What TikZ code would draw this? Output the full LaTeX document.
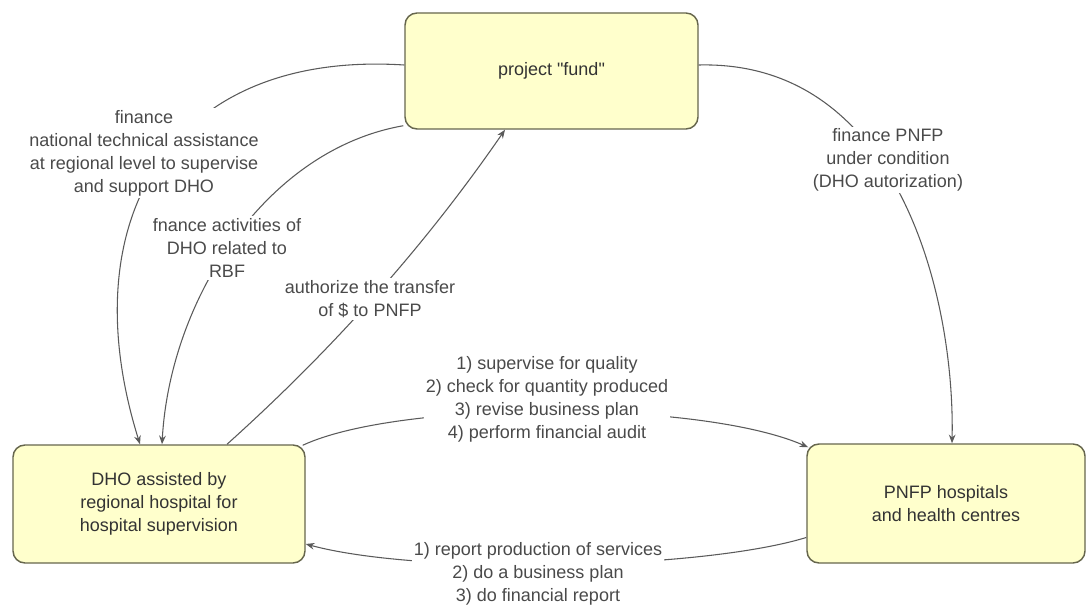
\documentclass[tikz,border=0pt]{standalone}
\usepackage{fontspec}
\setmainfont{Liberation Sans}[Ligatures=TeXOff]
\usetikzlibrary{arrows.meta,calc}
\definecolor{boxfill}{HTML}{FFFFCC}
\definecolor{boxline}{HTML}{66664D}
\definecolor{wirecol}{HTML}{5A5A5A}
\definecolor{labeltext}{HTML}{4A4A4A}
\definecolor{boxtext}{HTML}{333333}
\begin{document}
\begin{tikzpicture}[x=0.75pt,y=-0.75pt,
  actor/.style={draw=boxline, fill=boxfill, line width=1.1pt, rounded corners=9pt,
    align=center, text=boxtext, inner sep=0pt,
    font=\fontsize{13.5}{17.25}\selectfont},
  flowlabel/.style={fill=white, align=center, text=labeltext, inner sep=1.5pt,
    font=\fontsize{13.5}{17.25}\selectfont},
  flow/.style={draw=wirecol, line width=0.8pt, -{Stealth[length=6.5pt,width=5pt]}}]

\useasboundingbox (0,0) rectangle (1090,606);

% actors
\node[actor, minimum width=219.75pt, minimum height=87pt] (fund) at (551.5,71)
  {project "fund"};
\node[actor, minimum width=219pt, minimum height=88.5pt] (dho) at (159,504)
  {DHO assisted by\\regional hospital for\\hospital supervision};
\node[actor, minimum width=208.5pt, minimum height=89.25pt] (pnfp) at (946,503.5)
  {PNFP hospitals\\and health centres};

% money and information flows
\draw[flow] ($(fund.west)+(0,-6)$) .. controls (170,50) and (70,220) .. ($(dho.north)+(-19,0)$);
\draw[flow] ($(fund.south west)+(-1,-4)$) .. controls (265,150) and (170,300) .. ($(dho.north)+(3,0)$);
\draw[flow] ($(dho.north)+(68,0)$) .. controls (332,350) and (425,246) .. ($(fund.south)+(-46.5,0)$);
\draw[flow] ($(fund.east)+(0,-6)$) .. controls (900,60) and (955,300) .. ($(pnfp.north)+(6,0)$);
\draw[flow] ($(dho.north east)+(-3,1)$) .. controls (400,400) and (700,400) .. ($(pnfp.north west)+(2,4)$);
\draw[flow] ($(pnfp.west)+(0,34)$) .. controls (700,570) and (420,575) .. ($(dho.east)+(0,40)$);

% flow labels
\node[flowlabel] (l1) at (144,153)
  {finance\\national technical assistance\\at regional level to supervise\\and support DHO};
\node[flowlabel] (l2) at (227,248) {fnance activities of\\DHO related to\\RBF};
\node[flowlabel] (l3) at (370,299) {authorize the transfer\\of \$ to PNFP};
\node[flowlabel] (l4) at (888,160) {finance PNFP\\under condition\\(DHO autorization)};
\node[flowlabel] (l5) at (547,399)
  {1) supervise for quality\\2) check for quantity produced\\3) revise business plan\\4) perform financial audit};
\node[flowlabel] (l6) at (538,574)
  {1) report production of services\\2) do a business plan\\3) do financial report};
\end{tikzpicture}
\end{document}
